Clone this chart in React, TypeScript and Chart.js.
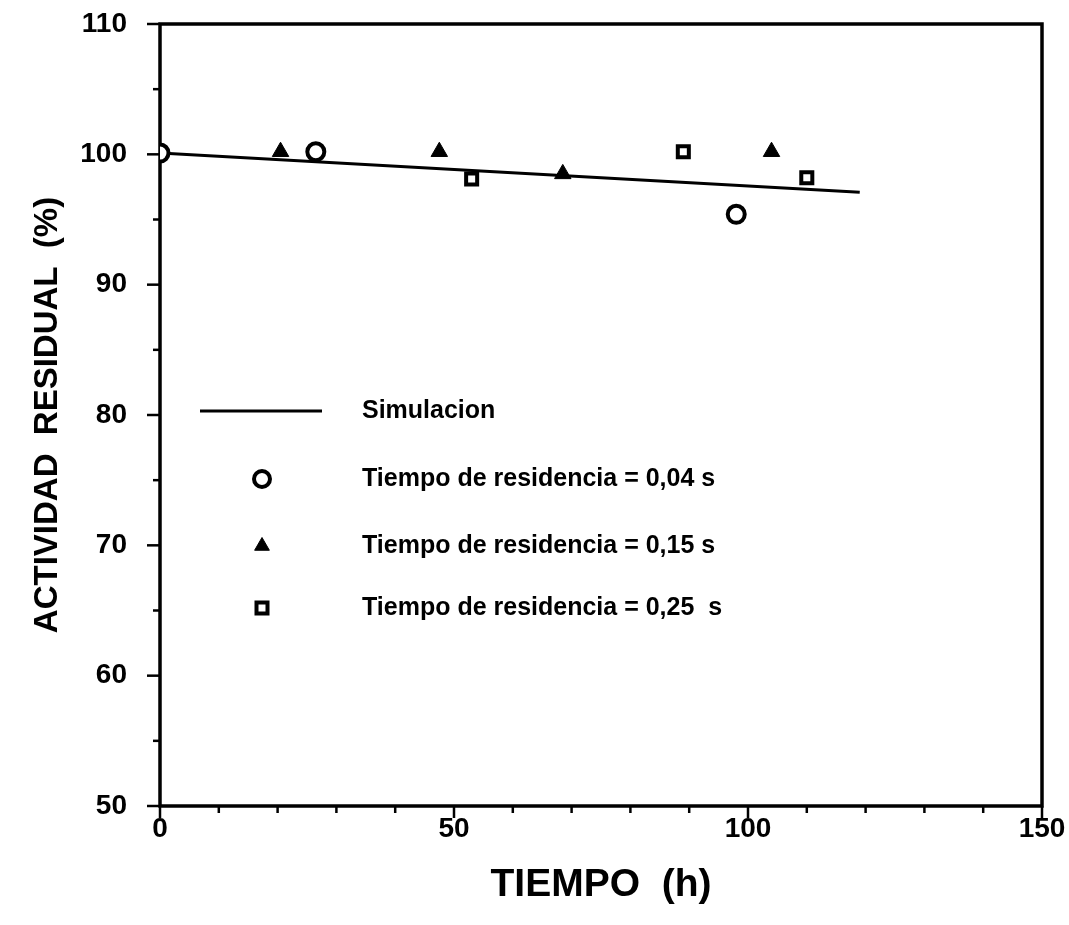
import { useEffect, useRef } from "react";
import { Chart, registerables } from "chart.js";

Chart.register(...registerables);

// ---- data ----
const X_MIN = 0;
const X_MAX = 150;
const Y_MIN = 50;
const Y_MAX = 110;
const xTickValues = [0, 50, 100, 150];
const xMinorTicks = [10, 20, 30, 40, 60, 70, 80, 90, 110, 120, 130, 140];
const yTickValues = [50, 60, 70, 80, 90, 100, 110];
const yMinorTicks = [55, 65, 75, 85, 95, 105];

const simTime = [0, 119];
const simActivity = [100.1, 97.1];

const time004 = [0, 26.5, 98];
const act004 = [100.1, 100.2, 95.4];

const time015 = [20.5, 47.5, 68.5, 104];
const act015 = [100.2, 100.2, 98.5, 100.2];

const time025 = [53, 89, 110];
const act025 = [98.1, 100.2, 98.2];

const legendLabels = [
  "Simulacion",
  "Tiempo de residencia = 0,04 s",
  "Tiempo de residencia = 0,15 s",
  "Tiempo de residencia = 0,25  s",
];

const xTitle = "TIEMPO  (h)";
const yTitle = "ACTIVIDAD  RESIDUAL  (%)";

const FONT = "'Liberation Sans', Arial, Helvetica, sans-serif";

const toPoints = (xs: number[], ys: number[]) => xs.map((x, i) => ({ x, y: ys[i] }));

function drawMarker(ctx: CanvasRenderingContext2D, kind: string, x: number, y: number) {
  ctx.save();
  ctx.strokeStyle = "#000";
  ctx.fillStyle = "#fff";
  if (kind === "circle") {
    ctx.lineWidth = 4;
    ctx.beginPath();
    ctx.arc(x, y, 8, 0, Math.PI * 2);
    ctx.fill();
    ctx.stroke();
  } else if (kind === "triangle") {
    ctx.fillStyle = "#000";
    ctx.lineWidth = 1;
    const r = 8.5;
    ctx.beginPath();
    ctx.moveTo(x, y - r);
    ctx.lineTo(x + r * 0.866, y + r * 0.5);
    ctx.lineTo(x - r * 0.866, y + r * 0.5);
    ctx.closePath();
    ctx.fill();
    ctx.stroke();
  } else {
    ctx.lineWidth = 4;
    ctx.beginPath();
    ctx.rect(x - 5.5, y - 5.5, 11, 11);
    ctx.fill();
    ctx.stroke();
  }
  ctx.restore();
}

const framePlugin = {
  id: "frameTicks",
  beforeDatasetsDraw(chart: any) {
    const { ctx, chartArea: a, scales } = chart;
    ctx.save();
    ctx.strokeStyle = "#000";
    ctx.lineWidth = 3.5;
    ctx.strokeRect(a.left, a.top, a.right - a.left, a.bottom - a.top);
    ctx.lineWidth = 2.5;
    const yTick = (v: number, len: number) => {
      const y = scales.y.getPixelForValue(v);
      ctx.beginPath();
      ctx.moveTo(a.left, y);
      ctx.lineTo(a.left - len, y);
      ctx.stroke();
    };
    const xTick = (v: number, len: number) => {
      const x = scales.x.getPixelForValue(v);
      ctx.beginPath();
      ctx.moveTo(x, a.bottom);
      ctx.lineTo(x, a.bottom + len);
      ctx.stroke();
    };
    yTickValues.forEach((v) => yTick(v, 13));
    yMinorTicks.forEach((v) => yTick(v, 7));
    xTickValues.forEach((v) => xTick(v, 12));
    xMinorTicks.forEach((v) => xTick(v, 7));
    ctx.restore();
  },
};

const legendPlugin = {
  id: "innerLegend",
  afterDraw(chart: any) {
    const { ctx, chartArea: a } = chart;
    const rows = [411, 479, 546, 608];
    const markerX = a.left + 102;
    const textX = a.left + 202;
    ctx.save();
    ctx.strokeStyle = "#000";
    ctx.lineWidth = 3;
    ctx.beginPath();
    ctx.moveTo(a.left + 40, rows[0]);
    ctx.lineTo(a.left + 162, rows[0]);
    ctx.stroke();
    drawMarker(ctx, "circle", markerX, rows[1]);
    drawMarker(ctx, "triangle", markerX, rows[2]);
    drawMarker(ctx, "square", markerX, rows[3]);
    ctx.fillStyle = "#000";
    ctx.font = `bold 25px ${FONT}`;
    ctx.textBaseline = "middle";
    ctx.textAlign = "left";
    legendLabels.forEach((t, i) => ctx.fillText(t, textX, rows[i]));
    ctx.restore();
  },
};

export default function App() {
  const canvasRef = useRef<HTMLCanvasElement | null>(null);

  useEffect(() => {
    const canvas = canvasRef.current;
    if (!canvas) return;
    const chart = new Chart(canvas, {
      type: "scatter",
      data: {
        datasets: [
          {
            label: legendLabels[0],
            data: toPoints(simTime, simActivity),
            showLine: true,
            borderColor: "#000",
            borderWidth: 3,
            pointRadius: 0,
            order: 5,
          },
          {
            label: legendLabels[1],
            data: toPoints(time004, act004),
            pointStyle: "circle",
            pointRadius: 8.5,
            pointBorderWidth: 4,
            pointBorderColor: "#000",
            pointBackgroundColor: "#fff",
            showLine: false,
          },
          {
            label: legendLabels[2],
            data: toPoints(time015, act015),
            pointStyle: "triangle",
            pointRadius: 9.5,
            pointBorderWidth: 1,
            pointBorderColor: "#000",
            pointBackgroundColor: "#000",
            showLine: false,
          },
          {
            label: legendLabels[3],
            data: toPoints(time025, act025),
            pointStyle: "rect",
            pointRadius: 7.8,
            pointBorderWidth: 4,
            pointBorderColor: "#000",
            pointBackgroundColor: "#fff",
            showLine: false,
          },
        ],
      },
      options: {
        responsive: false,
        animation: false,
        devicePixelRatio: 1,
        layout: { padding: { top: 24, right: 27, left: 0, bottom: 0 } },
        plugins: {
          legend: { display: false },
          tooltip: { enabled: false },
        },
        scales: {
          x: {
            type: "linear",
            min: X_MIN,
            max: X_MAX,
            afterBuildTicks: (s: any) => {
              s.ticks = xTickValues.map((v) => ({ value: v }));
            },
            afterFit: (s: any) => {
              s.height = 119;
              s.paddingLeft = 0;
              s.paddingRight = 0;
              s.paddingTop = 0;
              s.paddingBottom = 0;
            },
            grid: { display: false, drawTicks: false },
            border: { display: false },
            ticks: {
              color: "#000",
              padding: 6,
              font: { family: FONT, size: 28, weight: "bold" },
              maxRotation: 0,
            },
            title: {
              display: true,
              text: xTitle,
              color: "#000",
              font: { family: FONT, size: 39, weight: "bold" },
              padding: { top: 0, bottom: 16 },
            },
          },
          y: {
            type: "linear",
            min: Y_MIN,
            max: Y_MAX,
            afterBuildTicks: (s: any) => {
              s.ticks = yTickValues.map((v) => ({ value: v }));
            },
            afterFit: (s: any) => {
              s.width = 160;
              s.paddingLeft = 0;
              s.paddingRight = 0;
              s.paddingTop = 0;
              s.paddingBottom = 0;
            },
            grid: { display: false, drawTicks: false },
            border: { display: false },
            ticks: {
              color: "#000",
              padding: 33,
              font: { family: FONT, size: 28, weight: "bold" },
            },
            title: {
              display: true,
              text: yTitle,
              color: "#000",
              font: { family: FONT, size: 33, weight: "bold" },
              padding: { top: 28, bottom: 0 },
            },
          },
        },
      },
      plugins: [framePlugin, legendPlugin],
    } as any);
    return () => chart.destroy();
  }, []);

  return (
    <div style={{ position: "fixed", left: 0, top: 0, width: 1069, height: 925, background: "#fff" }}>
      <canvas ref={canvasRef} width={1069} height={925} style={{ width: 1069, height: 925 }} />
    </div>
  );
}
